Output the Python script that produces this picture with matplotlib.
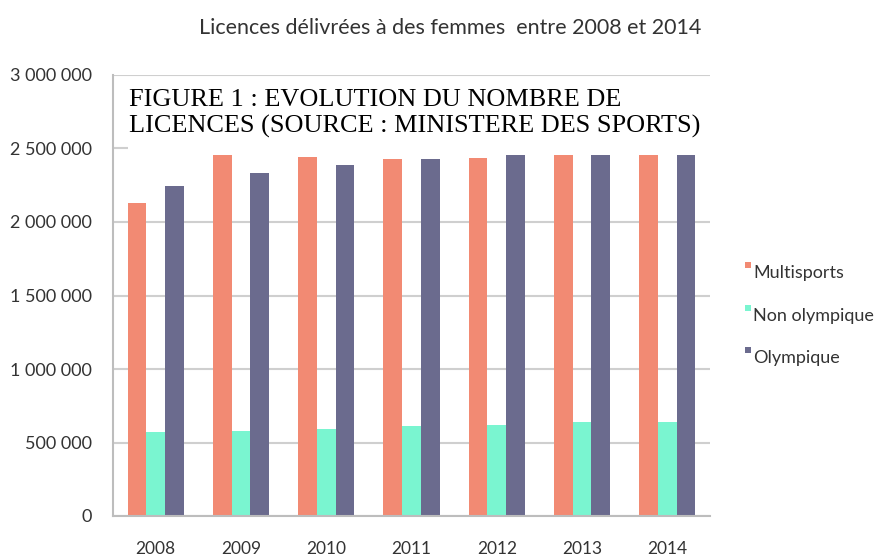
import matplotlib
matplotlib.use("Agg")
import matplotlib.pyplot as plt
import numpy as np
from matplotlib.patches import Rectangle

years = ["2008", "2009", "2010", "2011", "2012", "2013", "2014"]
multisports = [2127000, 2480000, 2440000, 2429000, 2437000, 2520000, 2560000]
non_olympique = [573000, 580000, 590000, 610000, 619000, 641000, 640000]
olympique = [2245000, 2335000, 2386000, 2429000, 2460000, 2480000, 2500000]
series_names = ["Multisports", "Non olympique", "Olympique"]
colors = ["#F28A73", "#7AF5D0", "#6B6B8E"]
yticks = [0, 500000, 1000000, 1500000, 2000000, 2500000, 3000000]
ytick_labels = ["0", "500 000", "1 000 000", "1 500 000", "2 000 000", "2 500 000", "3 000 000"]

plt.rcParams['font.family'] = ['Lato', 'DejaVu Sans']

fig = plt.figure(figsize=(8.88, 5.58), dpi=100)
ax = fig.add_axes([113/888, 42/558, 597/888, 441/558])

x = np.arange(len(years))
w = 0.219
for i, (vals, c) in enumerate(zip([multisports, non_olympique, olympique], colors)):
    ax.bar(x + (i - 1) * w, vals, width=w, color=c, zorder=2)

ax.set_xlim(-0.5, 6.5)
ax.set_ylim(0, 3000000)
ax.set_yticks(yticks)
ax.set_yticklabels(ytick_labels)
ax.set_xticks(x)
ax.set_xticklabels(years)
ax.tick_params(axis='y', length=0, pad=15, labelsize=13, labelcolor='#333333')
ax.tick_params(axis='x', length=0, pad=18, labelsize=12.5, labelcolor='#333333')
ax.grid(axis='y', color='#cfcfcf', linewidth=1.5, zorder=0)
ax.set_axisbelow(True)
for s in ['top', 'right']:
    ax.spines[s].set_visible(False)
ax.spines['left'].set_color('#bdbdbd')
ax.spines['left'].set_linewidth(1.5)
ax.spines['bottom'].set_color('#bdbdbd')
ax.spines['bottom'].set_linewidth(1.5)

# white overlay box with figure caption
ax.add_patch(Rectangle((0.025, 0.8175), 1.0, 0.1755, transform=ax.transAxes,
                       facecolor='white', edgecolor='none', zorder=5, clip_on=False))
ax.text(0.027, 0.969, "FIGURE 1 : EVOLUTION DU NOMBRE DE\nLICENCES (SOURCE : MINISTERE DES SPORTS)",
        transform=ax.transAxes, ha='left', va='top', fontsize=18.9,
        family=['Liberation Serif'], color='black', linespacing=1.22, zorder=6)

fig.text(450/888, 1 - 28/558, "Licences délivrées à des femmes  entre 2008 et 2014",
         ha='center', va='center', fontsize=15.5, color='#333333')

# legend
leg_y = [273, 316, 358]
for name, c, yy in zip(series_names, colors, leg_y):
    fig.patches.append(Rectangle((745/888, 1 - (yy - 5)/558), 6/888, 6/558,
                                 transform=fig.transFigure, facecolor=c, edgecolor='none'))
    fig.text(753/888, 1 - yy/558, name, ha='left', va='center', fontsize=13, color='#333333')

fig.savefig("out.png", dpi=100, facecolor='white')
